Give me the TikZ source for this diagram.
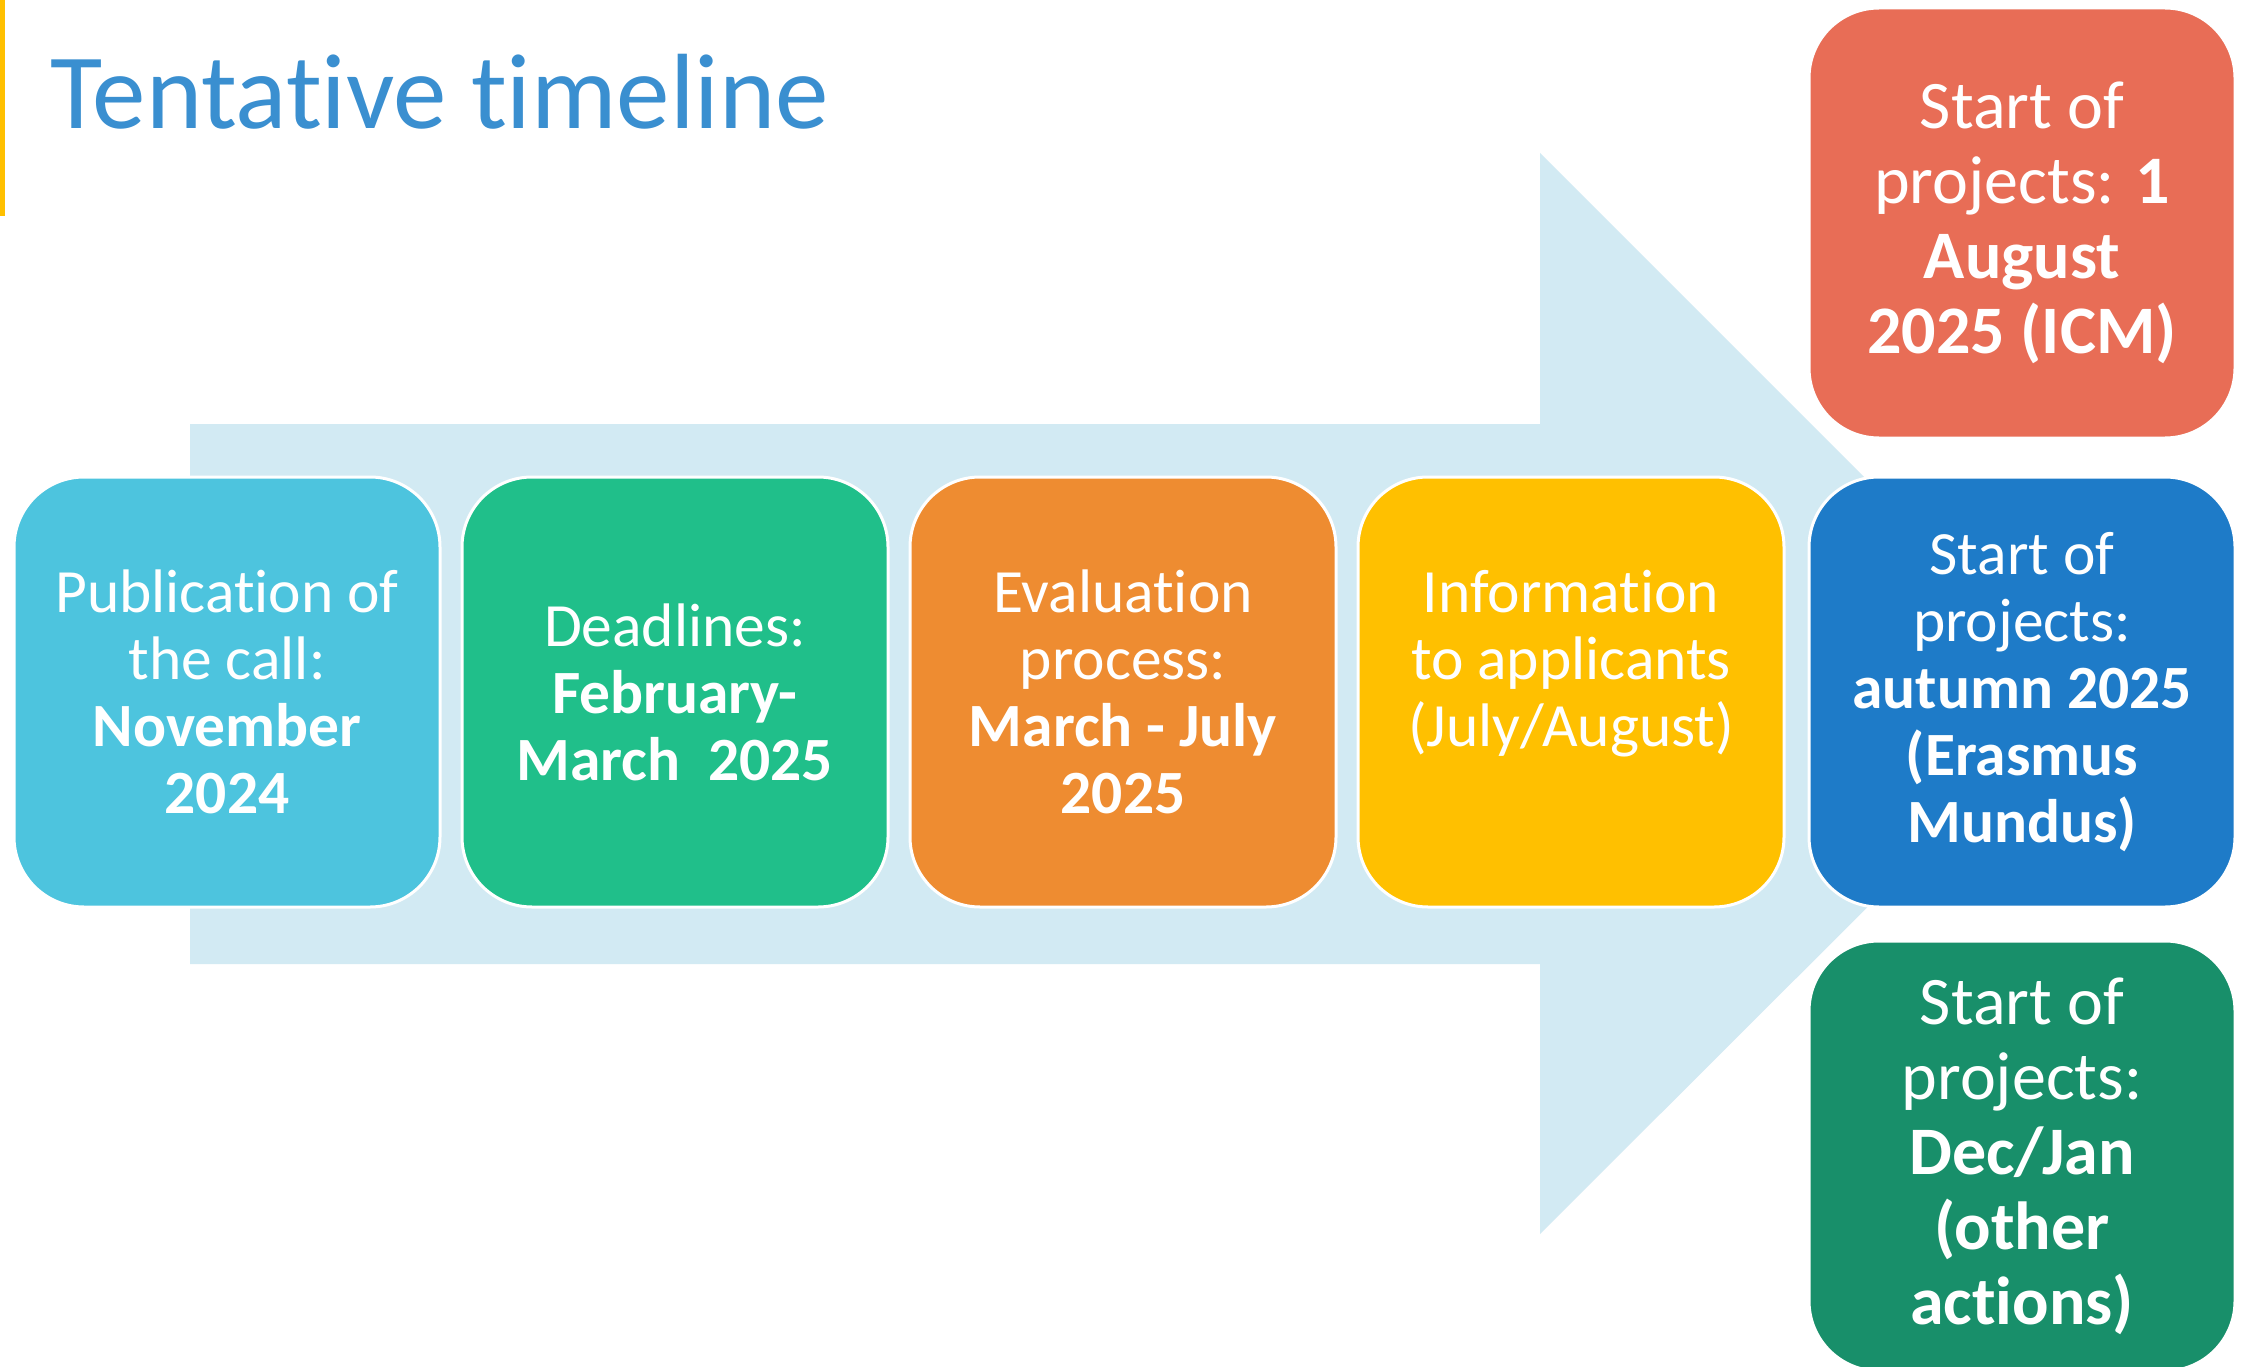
\documentclass[tikz,border=0pt]{standalone}
\usepackage{fontspec}
\setmainfont{Carlito}[Ligatures=NoCommon]

\definecolor{arrowbg}{HTML}{D2EAF3}
\definecolor{cpub}{HTML}{4DC4DE}
\definecolor{cdead}{HTML}{20BF8A}
\definecolor{ceval}{HTML}{EE8C31}
\definecolor{cinfo}{HTML}{FFC000}
\definecolor{cerasmus}{HTML}{1E7BC8}
\definecolor{cicm}{HTML}{E86D56}
\definecolor{cother}{HTML}{188F6A}
\definecolor{ctitle}{HTML}{3A8FD0}

\tikzset{
 stage/.style={draw=white, line width=3pt, rounded corners=70pt, minimum width=426pt,
   minimum height=430pt, text=white, align=center, inner sep=0pt,
   font=\fontsize{61.5}{67}\selectfont},
 bigstage/.style={stage, font=\fontsize{68}{75}\selectfont}
}

\begin{document}
\begin{tikzpicture}[x=1pt,y=-1pt]
 \useasboundingbox (0,0) rectangle (2247,1367);
 \fill[white] (0,0) rectangle (2247,1367);
 \fill[cinfo] (0,0) rectangle (5,216);

 \node[anchor=base west, inner sep=0pt, text=ctitle, font=\fontsize{107}{128}\selectfont] (title) at (50,129) {Tentative timeline};

 % big arrow behind the stages
 \fill[arrowbg] (190,424) -- (1540,424) -- (1540,153) -- (2081,694)
   -- (1540,1234) -- (1540,964) -- (190,964) -- cycle;

 \node[stage, fill=cpub] (pub) at (227,692) {Publication of\\the call:\\\textbf{November}\\\textbf{2024}};
 \node[stage, fill=cdead] (dead) at (675,692) {Deadlines:\\\textbf{February-}\\\textbf{March~~2025}};
 \node[stage, fill=ceval] (eval) at (1123,692) {Evaluation\\process:\\\textbf{March - July}\\\textbf{2025}};
 \node[stage, fill=cinfo] (info) at (1571,692) {Information\\to applicants\\(July/August)\\~};

 \node[stage, fill=cerasmus] (erasmus) at (2022,692) {Start of\\projects:\\\textbf{autumn 2025}\\\textbf{(Erasmus}\\\textbf{Mundus)}};
 \node[bigstage, fill=cicm] (icm) at (2022,223) {Start of\\projects: \textbf{1}\\\textbf{August}\\\textbf{2025 (ICM)}};
 \node[bigstage, fill=cother] (other) at (2022,1156) {Start of\\projects:\\\textbf{Dec/Jan}\\\textbf{(other}\\\textbf{actions)}};
\end{tikzpicture}
\end{document}
